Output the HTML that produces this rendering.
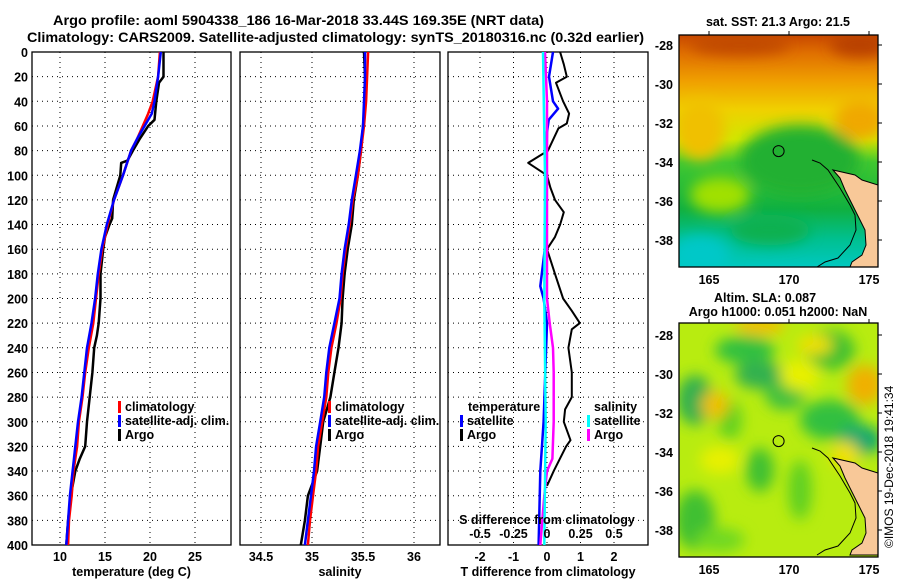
<!DOCTYPE html>
<html><head><meta charset="utf-8">
<style>
html,body{margin:0;padding:0;background:#fff;}
svg{display:block;font-family:"Liberation Sans",Arial,sans-serif;font-weight:bold;}
</style></head>
<body>
<svg id="fig" width="900" height="580" viewBox="0 0 900 580">
<defs>
  <filter id="blur6" x="-50%" y="-50%" width="200%" height="200%"><feGaussianBlur stdDeviation="7"/></filter>
  <clipPath id="clipTop"><rect x="679" y="35" width="199" height="232"/></clipPath>
  <clipPath id="clipBot"><rect x="679" y="323" width="199" height="234"/></clipPath>
  <linearGradient id="sstGrad" x1="0" y1="0" x2="0" y2="1">
    <stop offset="0" stop-color="#c84800"/>
    <stop offset="0.08" stop-color="#e07000"/>
    <stop offset="0.2" stop-color="#f0a000"/>
    <stop offset="0.32" stop-color="#f0d000"/>
    <stop offset="0.45" stop-color="#d0e800"/>
    <stop offset="0.55" stop-color="#40c830"/>
    <stop offset="0.75" stop-color="#10b040"/>
    <stop offset="0.88" stop-color="#00c090"/>
    <stop offset="1" stop-color="#00c8c0"/>
  </linearGradient>
</defs>
<text x="53" y="25" font-size="14" textLength="491" lengthAdjust="spacingAndGlyphs">Argo profile: aoml 5904338_186 16-Mar-2018 33.44S 169.35E (NRT data)</text>
<text x="27" y="42" font-size="14" textLength="617" lengthAdjust="spacingAndGlyphs">Climatology: CARS2009. Satellite-adjusted climatology: synTS_20180316.nc (0.32d earlier)</text>
<g id="plots"></g>
<g id="maps"></g>
<text transform="translate(893,548) rotate(-90)" font-size="12" font-weight="normal">©IMOS 19-Dec-2018 19:41:34</text>
</svg>
<script>
// ---------- data ----------
const depthTicks = [0,20,40,60,80,100,120,140,160,180,200,220,240,260,280,300,320,340,360,380,400];
const tempTicks = [10,15,20,25];
const salTicks = [34.5,35,35.5,36];
const salTickLabels = ["34.5","35","35.5","36"];
const tdiffTicks = [-2,-1,0,1,2];
const sdiffTicks = [-0.5,-0.25,0,0.25,0.5];
const sdiffTickLabels = ["-0.5","-0.25","0","0.25","0.5"];

const argoTempDepth = [0,20,25,40,55,60,70,80,88,90,100,110,120,135,140,150,160,180,200,220,230,240,260,280,300,320,330,340,360,380,400];
const argoTemp = [21.5,21.5,21.0,20.7,20.5,19.8,18.9,18.1,17.5,16.8,16.7,16.3,15.9,15.8,15.5,15.0,14.8,14.5,14.5,14.3,14.1,13.8,13.6,13.3,13.0,12.8,12.2,11.7,11.2,10.9,10.7];
const climTempDepth = [0,20,40,50,60,70,80,100,120,140,160,180,200,220,240,260,280,300,320,340,360,380,400];
const climTemp = [21.1,20.9,20.3,19.8,19.2,18.6,17.9,17.0,16.0,15.3,14.7,14.3,14.0,13.7,13.2,12.8,12.5,12.1,11.9,11.5,11.3,11.0,10.9];
const satTemp = [21.2,20.9,20.5,20.2,19.4,18.6,17.9,17.0,16.0,15.2,14.6,14.2,13.9,13.5,13.0,12.7,12.4,12.0,11.7,11.4,11.1,10.9,10.7];

const salDepth = [0,20,40,60,80,100,120,140,160,180,200,220,240,260,280,300,320,340,360,380,400];
const argoSal = [35.51,35.52,35.52,35.50,35.48,35.45,35.41,35.39,35.35,35.32,35.30,35.29,35.26,35.22,35.18,35.11,35.08,35.05,34.96,34.93,34.89];
const climSal = [35.55,35.54,35.53,35.51,35.48,35.45,35.40,35.37,35.33,35.30,35.28,35.24,35.19,35.16,35.14,35.10,35.06,35.04,35.01,34.98,34.96];
const satSal = [35.52,35.52,35.51,35.50,35.47,35.43,35.39,35.36,35.32,35.29,35.27,35.22,35.17,35.14,35.12,35.08,35.04,35.02,34.99,34.96,34.93];

const argoTdiffDepth = [0,10,20,25,40,50,58,62,80,90,100,110,120,130,140,150,160,180,200,210,220,225,240,260,280,290,300,315,320,340,352];
const argoTdiff = [0.39,0.5,0.59,0.27,0.48,0.66,0.59,0.34,0.03,-0.56,0,0.1,0.24,0.5,0.39,0.24,0,0.24,0.48,0.74,0.98,0.74,0.64,0.74,0.74,0.54,0.5,0.7,0.57,0.2,0.0];
const satTdiffDepth = [0,20,40,46,55,65,100,150,190,200,220,260,300,340,400];
const satTdiff = [0.18,0.06,0.18,0.33,0.05,0,-0.02,-0.02,-0.2,-0.1,0,-0.05,-0.1,-0.2,-0.25];
const argoSdiffDepth = [0,40,100,200,220,240,260,300,330,340,360,400];
const argoSdiff = [-0.015,0,0,0,0.02,0.045,0.05,0.05,0.04,0,-0.02,-0.05];
const satSdiffDepth = [0,100,200,300,400];
const satSdiff = [-0.03,-0.015,-0.02,-0.01,-0.02];

// ---------- helpers ----------
const NS = "http://www.w3.org/2000/svg";
function mk(tag, attrs, parent){const e=document.createElementNS(NS,tag);for(const k in attrs)e.setAttribute(k,attrs[k]);parent.appendChild(e);return e;}
const plots = document.getElementById('plots');
const Y0 = 52, Y1 = 545;
function yD(d){return Y0 + d*(Y1-Y0)/400;}

function panel(name, x0, x1, xScale, ticks, labels, showDepth, xtitle){
  const g = mk('g',{},plots);
  
  
  ticks.forEach(t=>{const gx=xScale(t);
    const l=mk('line',{x1:gx,x2:gx,y1:Y0,y2:Y1,stroke:'#000','stroke-width':1,'stroke-dasharray':'1,4'},g);
    
    
  });
  depthTicks.forEach(d=>{
    const l=mk('line',{x1:x0,x2:x1,y1:yD(d),y2:yD(d),stroke:'#000','stroke-width':1,'stroke-dasharray':'1,4'},g);
    
    
    if(showDepth){
      const t=mk('text',{x:x0-4,y:yD(d)+5,'text-anchor':'end','font-size':12.5},g);t.textContent=d;
      
      
    }
  });
  const r=mk('rect',{x:x0,y:Y0,width:x1-x0,height:Y1-Y0,fill:'none',stroke:'#000','stroke-width':1.3},g);
  
  
  if(labels){ticks.forEach((t,i)=>{const tx=mk('text',{x:xScale(t),y:561,'text-anchor':'middle','font-size':12.5},g);tx.textContent=labels[i];
    
    });}
  const tt=mk('text',{x:(x0+x1)/2,y:576,'text-anchor':'middle','font-size':12.5},g);tt.textContent=xtitle;
  
  
  return g;
}
function series(g, name, depths, vals, xScale, color, w){
  const pts = depths.map((d,i)=>xScale(vals[i]).toFixed(1)+','+yD(d).toFixed(1)).join(' ');
  const p=mk('polyline',{points:pts,fill:'none',stroke:color,'stroke-width':w||2.5,'stroke-linejoin':'round'},g);
  
  
}
function legend(g, x, y, color, label, name){
  const m=mk('rect',{x:x,y:y-10,width:3,height:12,fill:color},g);
  
  
  const t=mk('text',{x:x+7,y:y,'font-size':12.5},g);t.textContent=label;
  
  
}

const xT = t => 60 + (t-10)*9;
const g1 = panel('temperature-panel',32,231,xT,tempTicks,tempTicks.map(String),true,'temperature (deg C)');
series(g1,'argo-temperature-line',argoTempDepth,argoTemp,xT,'#000',2.5);
series(g1,'climatology-temperature-line',climTempDepth,climTemp,xT,'#f00',2.5);
series(g1,'satellite-temperature-line',climTempDepth,satTemp,xT,'#00f',2.5);
legend(g1,118,411,'#f00','climatology','legend-climatology');
legend(g1,118,425,'#00f','satellite-adj. clim.','legend-satellite-adj');
legend(g1,118,439,'#000','Argo','legend-argo');

const xS = s => 312 + (s-35)*102;
const g2 = panel('salinity-panel',240,440,xS,salTicks,salTickLabels,false,'salinity');
series(g2,'argo-salinity-line',salDepth,argoSal,xS,'#000',2.5);
series(g2,'climatology-salinity-line',salDepth,climSal,xS,'#f00',2.5);
series(g2,'satellite-salinity-line',salDepth,satSal,xS,'#00f',2.5);
legend(g2,328,411,'#f00','climatology','legend-climatology');
legend(g2,328,425,'#00f','satellite-adj. clim.','legend-satellite-adj');
legend(g2,328,439,'#000','Argo','legend-argo');

const xTd = t => 547 + t*33.5;
const xSd = s => 547 + s*134;
const g3 = panel('difference-panel',448,648,xTd,tdiffTicks,tdiffTicks.map(String),false,'T difference from climatology');
series(g3,'argo-temperature-diff-line',argoTdiffDepth,argoTdiff,xTd,'#000',2);
series(g3,'satellite-temperature-diff-line',satTdiffDepth,satTdiff,xTd,'#00f',2.5);
series(g3,'argo-salinity-diff-line',argoSdiffDepth,argoSdiff,xSd,'#f0f',2.5);
series(g3,'satellite-salinity-diff-line',satSdiffDepth,satSdiff,xSd,'#0ff',2.5);
{const t=mk('text',{x:468,y:411,'font-size':12.5},g3);t.textContent='temperature';


const t2=mk('text',{x:594,y:411,'font-size':12.5},g3);t2.textContent='salinity';

}
legend(g3,460,425,'#00f','satellite','legend-temp-satellite');
legend(g3,460,439,'#000','Argo','legend-temp-argo');
legend(g3,587,425,'#0ff','satellite','legend-sal-satellite');
legend(g3,587,439,'#f0f','Argo','legend-sal-argo');
{const t=mk('text',{x:547,y:524,'text-anchor':'middle','font-size':12.5},g3);t.textContent='S difference from climatology';

}
sdiffTicks.forEach((s,i)=>{const t=mk('text',{x:xSd(s),y:538,'text-anchor':'middle','font-size':12.5},g3);t.textContent=sdiffTickLabels[i];

});

// ---------- maps ----------
const maps = document.getElementById('maps');
const lonTicks=[165,170,175];
const latTicks=[-28,-30,-32,-34,-36,-38];
const xLon = l => 709 + (l-165)*16;
function mapFrame(name, top, bottom, yLat, clip, drawBg){
  const g=mk('g',{},maps);
  
  
  const bg=mk('g',{'clip-path':'url(#'+clip+')'},g);
  drawBg(bg);
  const dy = top-35;
  const land=mk('polygon',{points:[[833,170],[840,178],[845,190],[850,200],[855,210],[860,220],[865,230],[866,245],[862,255],[852,262],[850,267],[878,267],[878,185],[862,180],[855,175]].map(p=>p[0]+','+(p[1]+dy)).join(' '),fill:'#f8c898',stroke:'#000','stroke-width':1},bg);
  
  
  const iso=mk('polyline',{points:[[812,160],[820,163],[828,170],[840,188],[850,205],[855,215],[856,230],[850,245],[838,258],[825,262],[817,267]].map(p=>p[0]+','+(p[1]+dy)).join(' '),fill:'none',stroke:'#000','stroke-width':1},bg);
  
  
  const c=mk('circle',{cx:xLon(169.35),cy:yLat(-33.44),r:5.5,fill:'none',stroke:'#000','stroke-width':1},g);
  
  
  const fr=mk('rect',{x:679,y:top,width:199,height:bottom-top,fill:'none',stroke:'#000','stroke-width':1.3},g);
  
  
  lonTicks.forEach(l=>{
    mk('line',{x1:xLon(l),x2:xLon(l),y1:top,y2:top-4,stroke:'#000'},g);
    const t=mk('text',{x:xLon(l),y:bottom+17,'text-anchor':'middle','font-size':12.5},g);t.textContent=l;
    
    
  });
  latTicks.forEach(l=>{
    mk('line',{x1:878,x2:882,y1:yLat(l),y2:yLat(l),stroke:'#000'},g);
    const t=mk('text',{x:673,y:yLat(l)+5,'text-anchor':'end','font-size':12.5},g);t.textContent=l;
    
    
  });
  return g;
}
const yLatTop = l => 45 + (-28-l)*19.5;
const yLatBot = l => 335 + (-28-l)*19.5;
mapFrame('sst-map',35,267,yLatTop,'clipTop',bg=>{
  mk('rect',{x:679,y:35,width:199,height:232,fill:'url(#sstGrad)'},bg);
  const b=mk('g',{filter:'url(#blur6)'},bg);
  mk('ellipse',{cx:800,cy:160,rx:60,ry:35,fill:'#20b030'},b);
  mk('ellipse',{cx:700,cy:130,rx:25,ry:30,fill:'#f0c000'},b);
  mk('ellipse',{cx:860,cy:120,rx:25,ry:20,fill:'#f0a800'},b);
  mk('ellipse',{cx:720,cy:195,rx:30,ry:18,fill:'#a0e000'},b);
  mk('ellipse',{cx:700,cy:255,rx:30,ry:20,fill:'#00c8c8'},b);
  mk('ellipse',{cx:740,cy:45,rx:50,ry:10,fill:'#c04800'},b);
  mk('ellipse',{cx:860,cy:45,rx:30,ry:12,fill:'#b84000'},b);
  mk('ellipse',{cx:770,cy:230,rx:40,ry:15,fill:'#10b050'},b);
});
{const t=mk('text',{x:778,y:26,'text-anchor':'middle','font-size':12.5},maps);t.textContent='sat. SST: 21.3 Argo: 21.5';

}
mapFrame('sla-map',323,557,yLatBot,'clipBot',bg=>{
  mk('rect',{x:679,y:323,width:199,height:234,fill:'#b8ec10'},bg);
  const b=mk('g',{filter:'url(#blur6)'},bg);
  const blobs=[[745,350,30,14,'#30c040'],[760,375,25,14,'#30b050'],[830,350,25,20,'#40c030'],[695,400,18,25,'#30b050'],[830,420,30,20,'#30c040'],[860,440,22,15,'#10a870'],[785,395,20,15,'#40c040'],[800,490,12,30,'#60d020'],[730,420,12,20,'#60d020'],[760,470,14,22,'#40c030'],[695,520,20,30,'#40c030'],[720,540,25,12,'#70d820'],
    [760,325,25,10,'#f0c000'],[865,385,18,20,'#f0b000'],[715,405,14,14,'#f0c000'],[815,345,18,10,'#f0e000'],[720,460,20,14,'#e8f000'],[800,375,20,16,'#e8f000'],[845,455,14,14,'#f0e000']];
  blobs.forEach(p=>mk('ellipse',{cx:p[0],cy:p[1],rx:p[2],ry:p[3],fill:p[4]},b));
});
{const t=mk('text',{x:765,y:302,'text-anchor':'middle','font-size':12.5},maps);t.textContent='Altim. SLA: 0.087';


const t2=mk('text',{x:778,y:316,'text-anchor':'middle','font-size':12.5},maps);t2.textContent='Argo h1000: 0.051 h2000: NaN';

}
</script>
</body></html>
